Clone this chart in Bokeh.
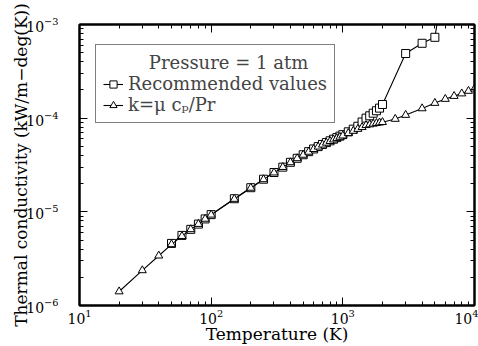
from bokeh.plotting import figure
from bokeh.models import Range1d, FixedTicker, LogAxis, Legend, LegendItem, CustomJSTickFormatter
from bokeh.embed import file_html
from bokeh.resources import INLINE

# ---- data ----
temp_rec = [50, 60, 70, 80, 90, 100, 150, 200, 250, 300, 350, 400, 450, 500, 550,
            600, 650, 700, 750, 800, 850, 900, 950, 1000, 1100, 1200, 1300, 1400,
            1500, 1600, 1700, 1800, 1900, 2000, 3000, 4000, 5000, 6000]
k_rec = [4.6e-6, 5.6e-6, 6.5e-6, 7.4e-6, 8.4e-6, 9.34e-6, 1.38e-5, 1.81e-5, 2.23e-5,
         2.63e-5, 3.00e-5, 3.38e-5, 3.73e-5, 4.07e-5, 4.39e-5, 4.69e-5, 4.97e-5,
         5.24e-5, 5.49e-5, 5.73e-5, 5.96e-5, 6.20e-5, 6.43e-5, 6.67e-5, 7.15e-5,
         7.63e-5, 8.2e-5, 9.1e-5, 1.00e-4, 1.06e-4, 1.13e-4, 1.20e-4, 1.28e-4,
         1.40e-4, 4.9e-4, 6.3e-4, 7.3e-4, 3.5e-3]

temp_calc = [20, 30, 40, 50, 60, 70, 80, 90, 100, 150, 200, 250, 300, 350, 400, 450,
             500, 550, 600, 650, 700, 750, 800, 850, 900, 950, 1000, 1100, 1200, 1300,
             1400, 1500, 1600, 1700, 1800, 1900, 2000, 2500, 3000, 4000, 5000, 6000,
             7000, 8000, 9000, 10000]
k_calc = [1.41e-6, 2.37e-6, 3.4e-6, 4.5e-6, 5.5e-6, 6.5e-6, 7.4e-6, 8.4e-6, 9.3e-6,
          1.37e-5, 1.80e-5, 2.22e-5, 2.62e-5, 3.0e-5, 3.37e-5, 3.72e-5, 4.05e-5,
          4.36e-5, 4.66e-5, 4.95e-5, 5.2e-5, 5.45e-5, 5.68e-5, 5.9e-5, 6.1e-5, 6.3e-5,
          6.5e-5, 6.9e-5, 7.3e-5, 7.65e-5, 8.0e-5, 8.4e-5, 8.55e-5, 8.7e-5, 8.85e-5,
          8.95e-5, 9.05e-5, 9.8e-5, 1.08e-4, 1.27e-4, 1.45e-4, 1.6e-4, 1.72e-4,
          1.83e-4, 1.95e-4, 2.06e-4]

x_major = [10, 100, 1000, 10000]
y_major = [1e-6, 1e-5, 1e-4, 1e-3]
mantissas = [2, 3, 4, 5, 6, 7, 8, 9]

x_minor = [m * d for d in x_major[:-1] for m in mantissas]
y_minor = [m * d for d in y_major[:-1] for m in mantissas]

FONT = "DejaVu Serif"

p = figure(width=478, height=346, x_axis_type="log", y_axis_type="log",
           x_range=Range1d(10, 1e4), y_range=Range1d(1e-6, 1e-3),
           output_backend="svg", toolbar_location=None,
           min_border_left=79, min_border_top=24, min_border_right=4,
           min_border_bottom=0)
p.grid.visible = False
p.outline_line_color = "black"
p.outline_line_width = 2
p.background_fill_color = "white"
p.border_fill_color = "white"

for ax, maj, mnr in [(p.xaxis[0], x_major, x_minor), (p.yaxis[0], y_major, y_minor)]:
    ax.ticker = FixedTicker(ticks=maj, minor_ticks=mnr)
    ax.major_tick_in = 8
    ax.major_tick_out = 0
    ax.minor_tick_in = 4
    ax.minor_tick_out = 0
    ax.axis_line_width = 2
    ax.major_tick_line_width = 1
    ax.major_label_text_font = FONT
    ax.major_label_text_font_size = "14px"
    ax.major_label_text_color = "black"
    ax.axis_label_text_font = FONT
    ax.axis_label_text_font_size = "17px"
    ax.axis_label_text_font_style = "normal"
    ax.axis_label_text_color = "black"

p.xaxis[0].axis_label = "Temperature (K)"
p.xaxis[0].major_label_standoff = 3
p.xaxis[0].axis_label_standoff = -3
p.yaxis[0].axis_label = "Thermal conductivity (kW/m\u2212deg(K))"
p.yaxis[0].major_label_standoff = 21
p.yaxis[0].axis_label_standoff = -8

# mirrored axes (ticks only)
blank = CustomJSTickFormatter(code="return ''")
top = LogAxis(ticker=FixedTicker(ticks=x_major, minor_ticks=x_minor), formatter=blank)
right = LogAxis(ticker=FixedTicker(ticks=y_major, minor_ticks=y_minor), formatter=blank)
for ax in (top, right):
    ax.major_tick_in = 8
    ax.major_tick_out = 0
    ax.minor_tick_in = 4
    ax.minor_tick_out = 0
    ax.axis_line_width = 2
    ax.major_label_standoff = 0
p.add_layout(top, "above")
p.add_layout(right, "right")

l1 = p.line(temp_rec, k_rec, line_color="black", line_width=1.1)
s1 = p.scatter(temp_rec, k_rec, marker="square", size=8, line_color="black",
               fill_color="white", line_width=1)
l2 = p.line(temp_calc, k_calc, line_color="black", line_width=1.1)
s2 = p.scatter(temp_calc, k_calc, marker="triangle", size=8, line_color="black",
               fill_color="white", line_width=1)

legend = Legend(items=[
    LegendItem(label="Recommended values", renderers=[l1, s1]),
    LegendItem(label="k=\u03bc c\u209a/Pr", renderers=[l2, s2]),
], location=(16, 182))
legend.title = "\u00a0" * 8 + "Pressure = 1 atm"
legend.title_text_font = FONT
legend.title_text_font_size = "18px"
legend.title_text_font_style = "normal"
legend.title_standoff = 0
legend.label_text_font = FONT
legend.label_text_font_size = "18px"
legend.padding = 7
legend.spacing = 0
legend.label_height = 18
legend.glyph_height = 18
legend.glyph_width = 20
legend.label_standoff = 5
legend.border_line_color = "black"
legend.border_line_width = 1
legend.background_fill_alpha = 1
legend.margin = 0
p.add_layout(legend)

open("out.html", "w").write(file_html(p, INLINE))
